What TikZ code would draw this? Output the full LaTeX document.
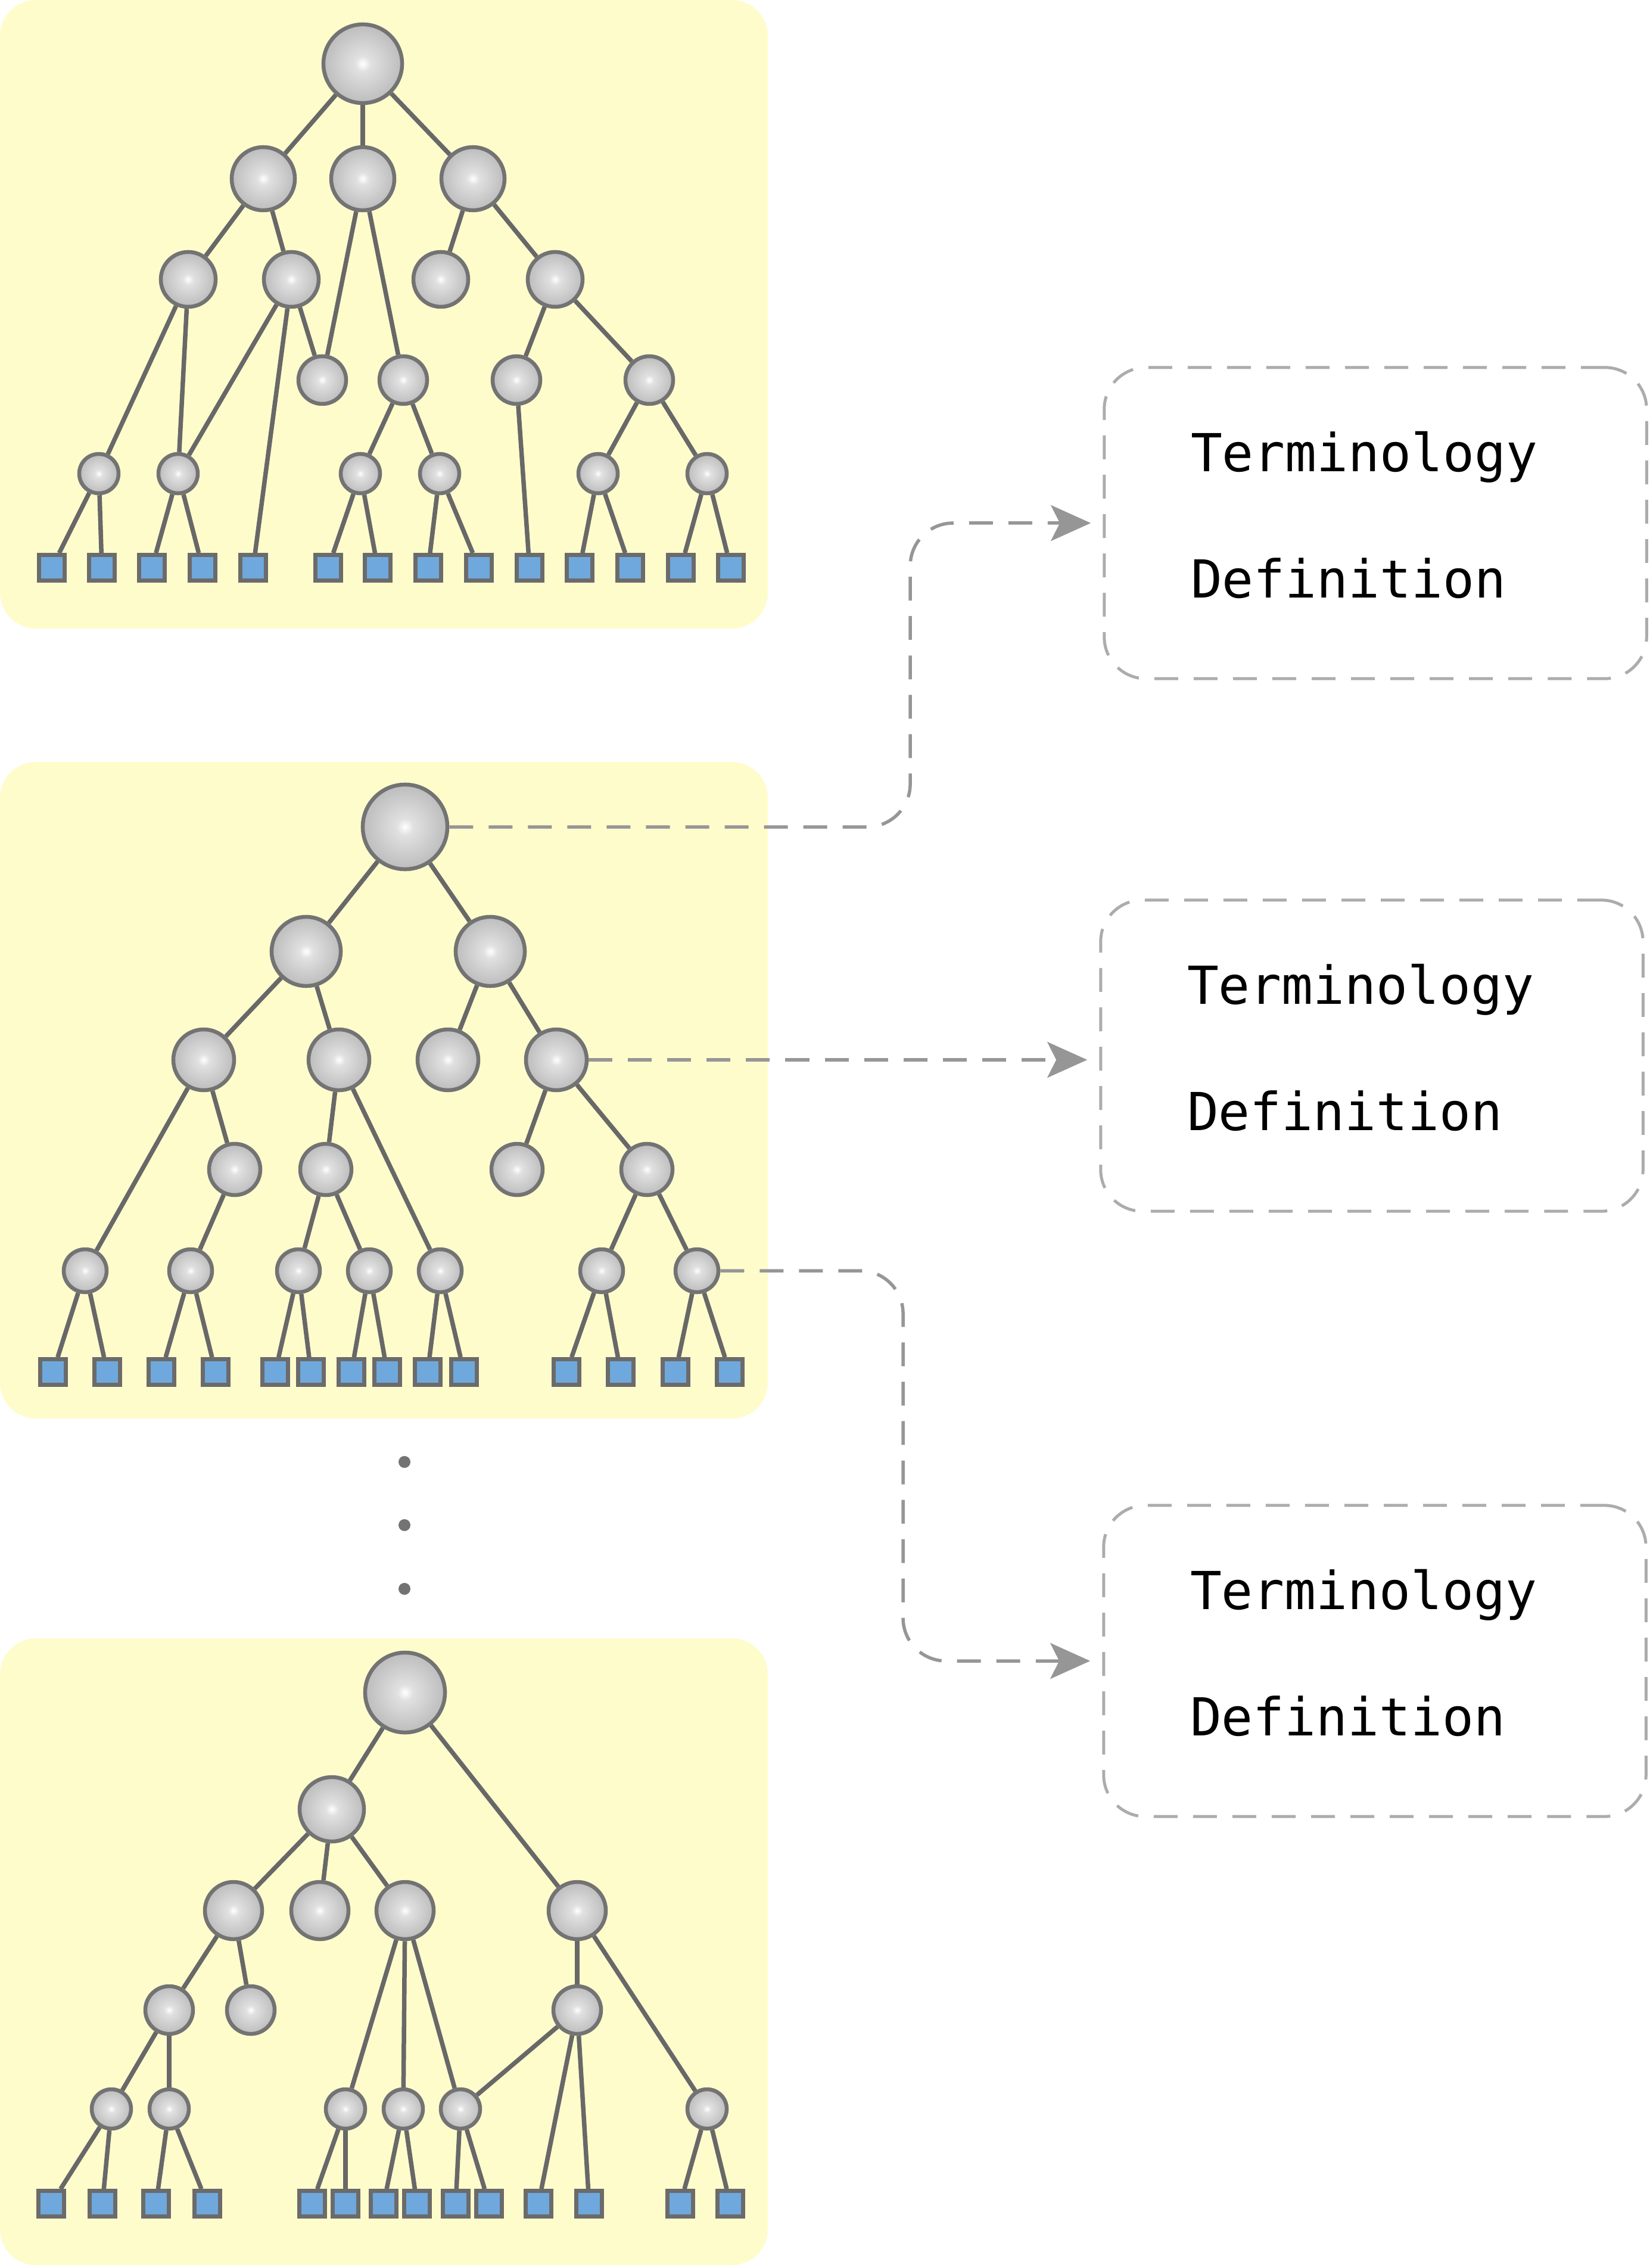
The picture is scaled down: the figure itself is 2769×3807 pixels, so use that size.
\documentclass[tikz,border=0pt]{standalone}
\usepackage{fontspec}
\usetikzlibrary{positioning,arrows.meta,backgrounds}
\pgfdeclarelayer{backdrop}
\pgfsetlayers{backdrop,main}
\newfontfamily\termfont{DejaVu Sans Mono}
\definecolor{panelyellow}{RGB}{255,252,204}
\definecolor{leafblue}{RGB}{111,168,220}
\definecolor{wiregray}{RGB}{104,104,104}
\definecolor{linkgray}{RGB}{150,150,150}
\definecolor{framegray}{RGB}{172,172,172}
\pgfdeclareradialshading{knotball}{\pgfpoint{0bp}{0bp}}{color(0bp)=(white); color(5bp)=(black!12); color(22bp)=(black!24); color(40bp)=(black!33); color(50bp)=(black!46)}
\tikzset{
	knot/.style={circle,draw=black!55,line width=0.065cm,shading=knotball,inner sep=0},
	leaf/.style={rectangle,draw=black!58,line width=0.065cm,fill=leafblue,minimum size=0.43cm,inner sep=0},
	twig/.style={draw=wiregray,line width=0.075cm},
	link/.style={draw=linkgray,line width=0.055cm,dash pattern=on 0.4cm off 0.26cm,
		-{Stealth[length=0.67cm,width=0.6cm,inset=0.15cm]},shorten >=0.2cm},
	termframe/.style={draw=framegray,line width=0.05cm,dash pattern=on 0.4cm off 0.26cm,
		rounded corners=0.7cm,minimum width=9.1cm,minimum height=5.22cm},
	termtext/.style={font=\termfont\fontsize{25}{30}\selectfont,inner sep=0},
	panel/.style={fill=panelyellow,rounded corners=0.6cm},
	gapdot/.style={circle,fill=black!55,minimum size=0.2cm,inner sep=0}
}
\newcommand{\knot}[4]{
	\node [knot,minimum size=#4cm] (#1) at (#2,#3) {}
}
\newcommand{\leaf}[3]{
	\node [leaf] (#1) at (#2,#3) {}
}
\newcommand{\termbox}[3]{
	\node [termframe] (#1) at (#2,#3) {};
	\node [termtext,anchor=base west] (#1t) at ([xshift=1.47cm,yshift=-1.77cm]#1.north west) {Terminology};
	\node [termtext,below=2.12cm of #1t.base west,anchor=base west] (#1d) {Definition}
}

\begin{document}
\begin{tikzpicture}[x=0.01cm,y=-0.01cm]
	\useasboundingbox (0,0) rectangle (2769,3807);

	% First tree
	\knot {t1a}{609}{107}{1.32};
	\knot {t1b1}{442}{300}{1.06};
	\knot {t1b2}{609}{300}{1.06};
	\knot {t1b3}{794}{300}{1.06};
	\knot {t1c1}{316}{469}{0.92};
	\knot {t1c2}{489}{469}{0.92};
	\knot {t1c3}{740}{469}{0.92};
	\knot {t1c4}{932}{469}{0.92};
	\knot {t1d1}{541}{638}{0.80};
	\knot {t1d2}{677}{638}{0.80};
	\knot {t1d3}{867}{638}{0.80};
	\knot {t1d4}{1090}{638}{0.80};
	\knot {t1e1}{166}{795}{0.66};
	\knot {t1e2}{299}{795}{0.66};
	\knot {t1e3}{605}{795}{0.66};
	\knot {t1e4}{738}{795}{0.66};
	\knot {t1e5}{1004}{795}{0.66};
	\knot {t1e6}{1187}{795}{0.66};
	\foreach \x [count=\i] in {87,171,255,340,425,551,634,719,804,889,973,1058,1143,1227}
		{\leaf {t1l\i}{\x}{953};}
	\foreach \u/\v in {t1a/t1b1,t1a/t1b2,t1a/t1b3,t1b1/t1c1,t1b1/t1c2,t1b2/t1d1,t1b2/t1d2,
		t1b3/t1c3,t1b3/t1c4,t1c1/t1e1,t1c1/t1e2,t1c2/t1e2,t1c2/t1l5,t1c2/t1d1,t1c4/t1d3,
		t1c4/t1d4,t1d2/t1e3,t1d2/t1e4,t1d3/t1l10,t1d4/t1e5,t1d4/t1e6,t1e1/t1l1,t1e1/t1l2,
		t1e2/t1l3,t1e2/t1l4,t1e3/t1l6,t1e3/t1l7,t1e4/t1l8,t1e4/t1l9,t1e5/t1l11,t1e5/t1l12,
		t1e6/t1l13,t1e6/t1l14}
		\draw [twig] (\u) -- (\v);

	% Second tree
	\knot {t2a}{680}{1388}{1.42};
	\knot {t2b1}{514}{1597}{1.16};
	\knot {t2b2}{823}{1597}{1.16};
	\knot {t2c1}{342}{1779}{1.02};
	\knot {t2c2}{569}{1779}{1.02};
	\knot {t2c3}{752}{1779}{1.02};
	\knot {t2c4}{934}{1779}{1.02};
	\knot {t2d1}{394}{1963}{0.86};
	\knot {t2d2}{547}{1963}{0.86};
	\knot {t2d3}{868}{1963}{0.86};
	\knot {t2d4}{1086}{1963}{0.86};
	\knot {t2e1}{143}{2133}{0.72};
	\knot {t2e2}{320}{2133}{0.72};
	\knot {t2e3}{501}{2133}{0.72};
	\knot {t2e4}{620}{2133}{0.72};
	\knot {t2e5}{739}{2133}{0.72};
	\knot {t2e6}{1010}{2133}{0.72};
	\knot {t2e7}{1170}{2133}{0.72};
	\foreach \x [count=\i] in {89,180,271,362,462,522,590,650,718,779,951,1042,1134,1225}
		{\leaf {t2l\i}{\x}{2303};}
	\foreach \u/\v in {t2a/t2b1,t2a/t2b2,t2b1/t2c1,t2b1/t2c2,t2b2/t2c3,t2b2/t2c4,t2c1/t2e1,
		t2c1/t2d1,t2c2/t2d2,t2c2/t2e5,t2c4/t2d3,t2c4/t2d4,t2d1/t2e2,t2d2/t2e3,t2d2/t2e4,
		t2d4/t2e6,t2d4/t2e7,t2e1/t2l1,t2e1/t2l2,t2e2/t2l3,t2e2/t2l4,t2e3/t2l5,t2e3/t2l6,
		t2e4/t2l7,t2e4/t2l8,t2e5/t2l9,t2e5/t2l10,t2e6/t2l11,t2e6/t2l12,t2e7/t2l13,t2e7/t2l14}
		\draw [twig] (\u) -- (\v);

	% Third tree
	\knot {t3a}{680}{2841}{1.34};
	\knot {t3b1}{557}{3037}{1.08};
	\knot {t3c1}{392}{3207}{0.96};
	\knot {t3c2}{537}{3207}{0.96};
	\knot {t3c3}{680}{3207}{0.96};
	\knot {t3c4}{969}{3207}{0.96};
	\knot {t3d1}{284}{3374}{0.80};
	\knot {t3d2}{421}{3374}{0.80};
	\knot {t3d3}{969}{3374}{0.80};
	\knot {t3e1}{187}{3540}{0.66};
	\knot {t3e2}{284}{3540}{0.66};
	\knot {t3e3}{580}{3540}{0.66};
	\knot {t3e4}{677}{3540}{0.66};
	\knot {t3e5}{773}{3540}{0.66};
	\knot {t3e6}{1187}{3540}{0.66};
	\foreach \x [count=\i] in {86,172,262,348,524,580,644,700,765,821,904,989,1142,1226}
		{\leaf {t3l\i}{\x}{3699};}
	\foreach \u/\v in {t3a/t3b1,t3a/t3c4,t3b1/t3c1,t3b1/t3c2,t3b1/t3c3,t3c1/t3d1,t3c1/t3d2,
		t3c3/t3e3,t3c3/t3e4,t3c3/t3e5,t3c4/t3d3,t3c4/t3e6,t3d1/t3e1,t3d1/t3e2,t3d3/t3e5,
		t3d3/t3l11,t3d3/t3l12,t3e1/t3l1,t3e1/t3l2,t3e2/t3l3,t3e2/t3l4,t3e3/t3l5,t3e3/t3l6,
		t3e4/t3l7,t3e4/t3l8,t3e5/t3l9,t3e5/t3l10,t3e6/t3l13,t3e6/t3l14}
		\draw [twig] (\u) -- (\v);

	% Dots between the trees
	\node [gapdot] (gap1) at (679,2454) {};
	\node [gapdot] (gap2) at (679,2560) {};
	\node [gapdot] (gap3) at (679,2667) {};

	% Terms on the right
	\termbox {b1}{2309}{878};
	\termbox {b2}{2303}{1772};
	\termbox {b3}{2308}{2788};
	\draw [link,rounded corners=0.72cm] (t2a.east) -| ([xshift=-3.23cm]b1.west) -- (b1.west);
	\draw [link] (t2c4.east) -- (t2c4.east -| b2.west);
	\draw [link,rounded corners=0.72cm] (t2e7.east) -| ([xshift=-3.34cm]b3.west) -- (b3.west);

	% On background layer
	\begin{pgfonlayer}{backdrop}
	\fill [panel] (0,0) rectangle (1289,1055);
	\fill [panel] (0,1279) rectangle (1289,2381);
	\fill [panel] (0,2750) rectangle (1289,3802);
	\end{pgfonlayer}

\end{tikzpicture}
\end{document}
